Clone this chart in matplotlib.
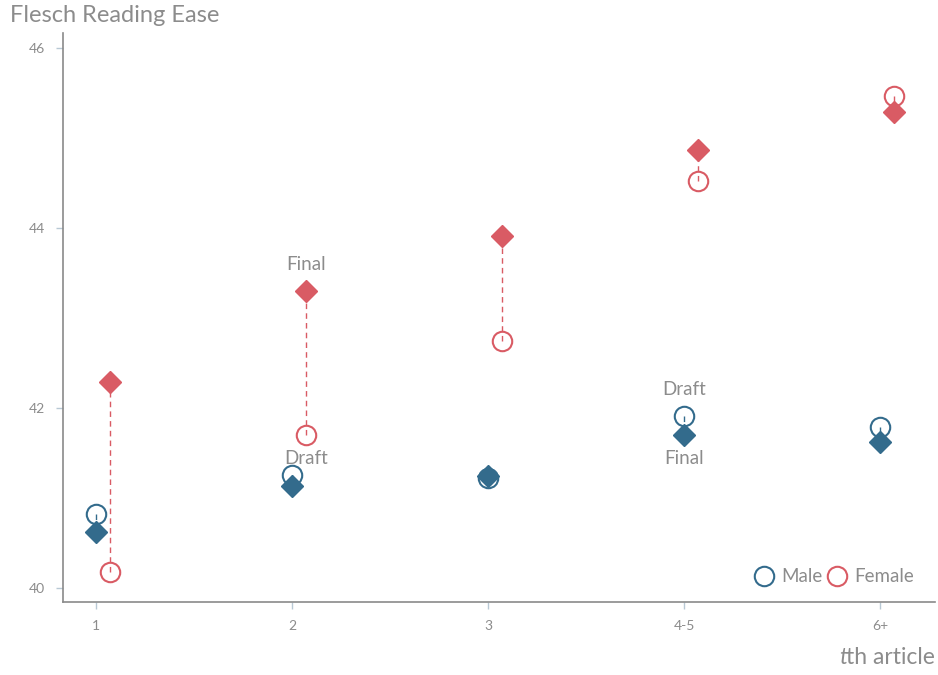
import matplotlib.pyplot as plt
import numpy as np

categories = ['1', '2', '3', '4-5', '6+']
male_draft = [40.82, 41.26, 41.22, 41.91, 41.79]
male_final = [40.62, 41.13, 41.24, 41.70, 41.62]
female_draft = [40.18, 41.70, 42.74, 44.52, 45.47]
female_final = [42.29, 43.30, 43.91, 44.87, 45.29]

male_color = '#336b8c'
female_color = '#d95b64'
text_color = '#8c8c8c'
tick_color = '#b8c8d4'

plt.rcParams['font.family'] = ['Lato', 'DejaVu Sans']

fig = plt.figure(figsize=(9.38, 6.75), dpi=100)
ax = fig.add_axes([0.0672, 0.1081, 0.9296, 0.843])

x = np.arange(len(categories))
offset = 0.07
for xs, draft, final, color in [(x, male_draft, male_final, male_color),
                                (x + offset, female_draft, female_final, female_color)]:
    for xi, d, f in zip(xs, draft, final):
        ax.plot([xi, xi], [d, f], color=color, lw=1, ls=(0, (4, 3)), zorder=1)
    ax.plot(xs, draft, 'o', ms=14, mfc='none', mec=color, mew=1.5, ls='none', zorder=3)
    ax.plot(xs, final, 'D', ms=11, color=color, ls='none', zorder=2)

# annotations
fs = 13.5
ax.annotate('Final', (x[1] + offset, female_final[1]), xytext=(0, 19),
            textcoords='offset points', ha='center', va='center', color=text_color, fontsize=fs)
ax.annotate('Draft', (x[1] + offset, female_draft[1]), xytext=(0, -17),
            textcoords='offset points', ha='center', va='center', color=text_color, fontsize=fs)
ax.annotate('Draft', (x[3], male_draft[3]), xytext=(0, 19),
            textcoords='offset points', ha='center', va='center', color=text_color, fontsize=fs)
ax.annotate('Final', (x[3], male_final[3]), xytext=(0, -17),
            textcoords='offset points', ha='center', va='center', color=text_color, fontsize=fs)

ax.set_xlim(-0.168, 4.28)
ax.set_ylim(39.844, 46.167)
ax.set_xticks(x)
ax.set_xticklabels(categories)
ax.set_yticks([40, 42, 44, 46])
ax.tick_params(colors=tick_color, labelcolor=text_color, labelsize=10, length=5, width=1, pad=8)

for s in ['top', 'right']:
    ax.spines[s].set_visible(False)
for s in ['left', 'bottom']:
    ax.spines[s].set_color('#8a8a8a')
    ax.spines[s].set_linewidth(1.2)

fig.text(10 / 938, 1 - 15 / 675, 'Flesch Reading Ease', color=text_color, fontsize=17,
         ha='left', va='center')
xl = fig.text(935 / 938, 1 - 658 / 675, 'th article', color=text_color, fontsize=16.5,
              ha='right', va='center')
fig.canvas.draw()
bb = xl.get_window_extent().transformed(fig.transFigure.inverted())
fig.text(bb.x0 + 0.001, 1 - 658 / 675, 't', color=text_color, fontsize=16.5,
         ha='right', va='center', style='italic')

# legend
h_male = ax.plot([], [], 'o', ms=14, mfc='none', mec=male_color, mew=1.5, ls='none')[0]
h_female = ax.plot([], [], 'o', ms=14, mfc='none', mec=female_color, mew=1.5, ls='none')[0]
leg = ax.legend([h_male, h_female], ['Male', 'Female'], loc='lower right', ncol=2,
                frameon=False, fontsize=13.5, handlelength=1.2, handletextpad=0.3,
                columnspacing=0.2, bbox_to_anchor=(0.995, 0.0))
for t in leg.get_texts():
    t.set_color(text_color)

fig.savefig('out.png', dpi=100)
